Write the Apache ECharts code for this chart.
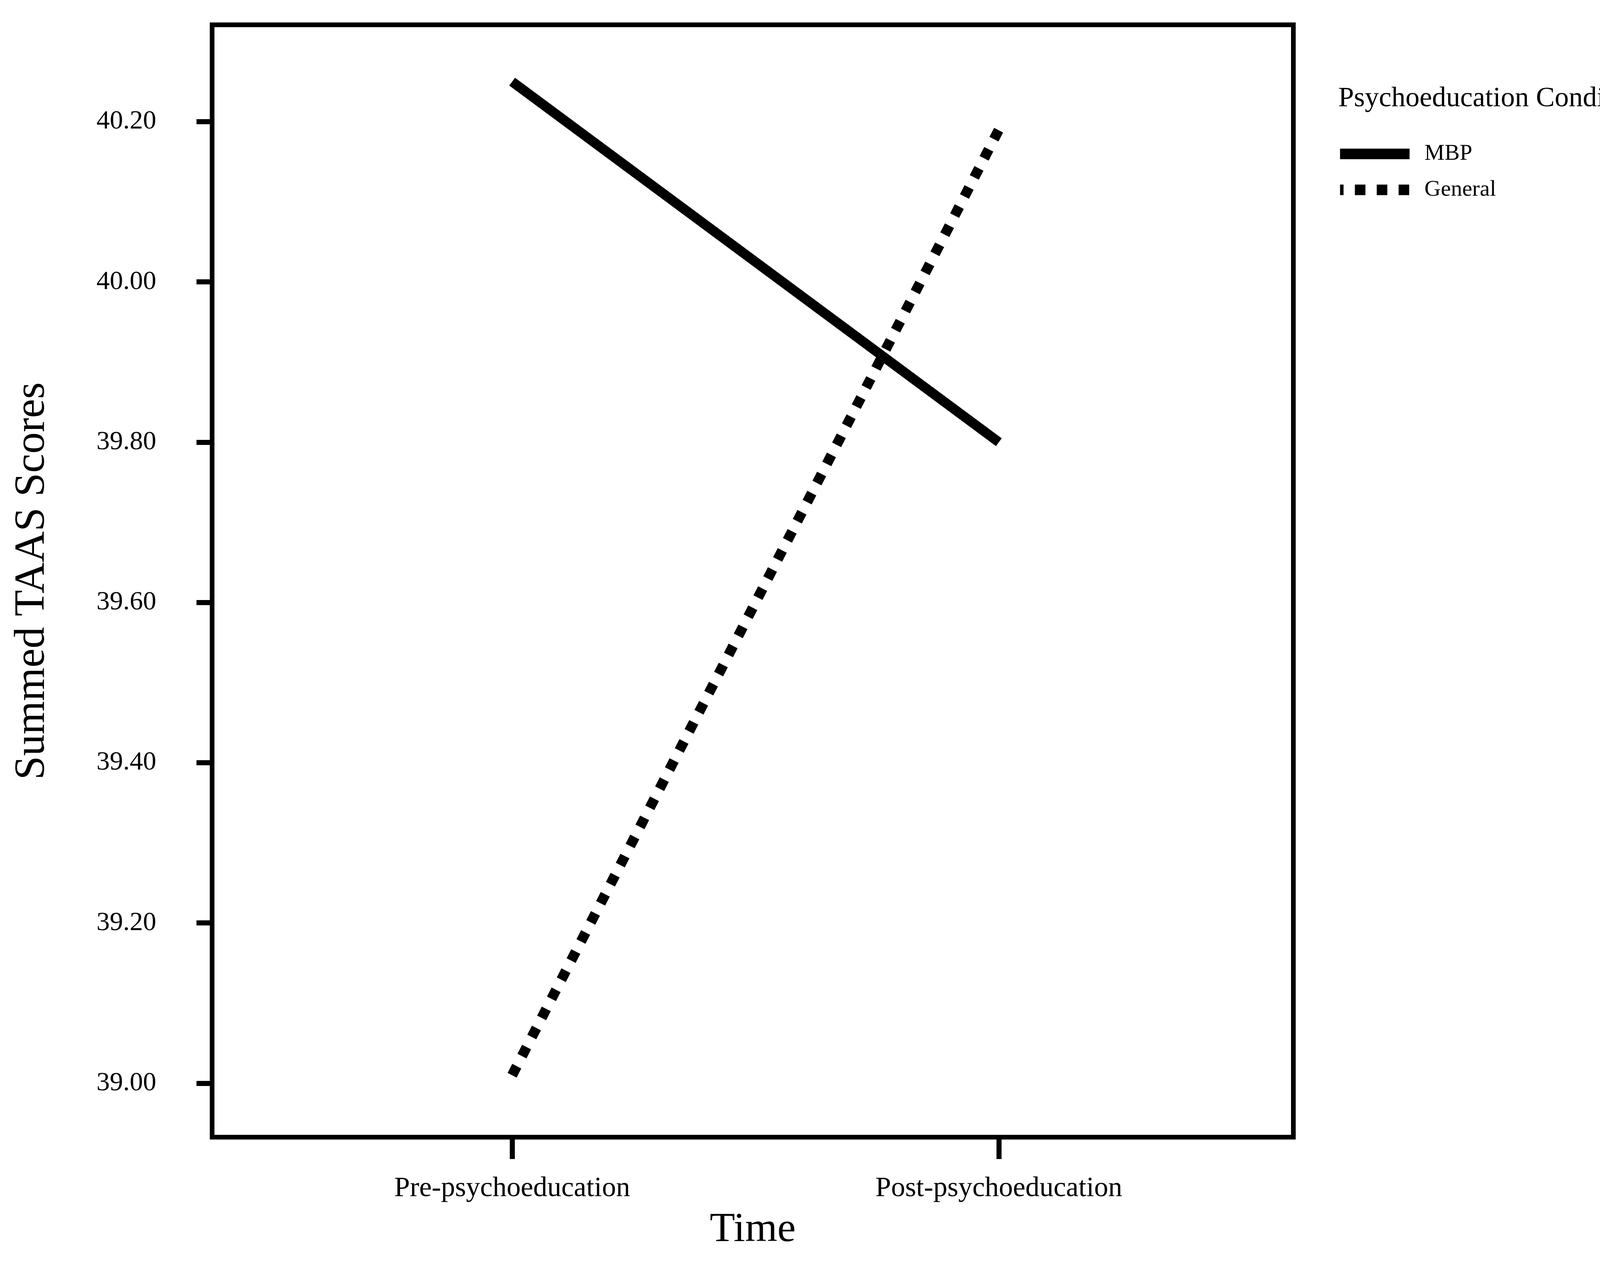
<!DOCTYPE html>
<html>
<head>
<meta charset="utf-8">
<script src="https://cdn.jsdelivr.net/npm/echarts@6/dist/echarts.min.js"></script>
<style>
html, body { margin: 0; padding: 0; background: #fff; }
#chart { width: 4253px; height: 3228px; }
</style>
</head>
<body>
<div id="chart"></div>
<script>
// ---- data ----
const timePoints = ['Pre-psychoeducation', 'Post-psychoeducation'];
const timeIndex = [1, 2];
const mbpScores = [40.25, 39.80];
const generalScores = [39.01, 40.19];
const yTickValues = [39.0, 39.2, 39.4, 39.6, 39.8, 40.0, 40.2];
const seriesNames = ['MBP', 'General'];
const legendTitle = 'Psychoeducation Condition';
const xAxisTitle = 'Time';
const yAxisTitle = 'Summed TAAS Scores';

const FONT = '"Liberation Serif", "Times New Roman", serif';

const chart = echarts.init(document.getElementById('chart'), null, { renderer: 'canvas' });

const toPairs = (vals) => timeIndex.map((x, i) => [x, vals[i]]);

const option = {
  backgroundColor: '#ffffff',
  animation: false,
  title: {
    text: legendTitle,
    left: 3426,
    top: 217,
    padding: 0,
    textStyle: { fontFamily: FONT, fontSize: 72, fontWeight: 'normal', color: '#000' }
  },
  legend: {
    orient: 'vertical',
    left: 3417,
    top: 347,
    padding: 0,
    itemWidth: 178,
    itemHeight: 30,
    itemGap: -2,
    textStyle: { fontFamily: FONT, fontSize: 58, color: '#000', lineHeight: 62, padding: [0, 0, 32, 33] },
    itemStyle: { color: 'rgba(0,0,0,0)', borderWidth: 0, opacity: 0 },
    data: [
      { name: seriesNames[0], lineStyle: { width: 27, color: '#000', type: 'solid' } },
      { name: seriesNames[1], lineStyle: { width: 27, color: '#000', type: [27, 29], dashOffset: 18 } }
    ]
  },
  grid: {
    left: 543,
    top: 63.5,
    width: 2768,
    height: 2847.5,
    show: true,
    borderColor: '#000',
    borderWidth: 12,
    backgroundColor: 'transparent'
  },
  xAxis: {
    type: 'value',
    min: 0.3836,
    max: 2.6051,
    splitLine: { show: false },
    axisLine: { show: false },
    axisTick: { show: true, customValues: timeIndex, length: 56, lineStyle: { color: '#000', width: 13 } },
    axisLabel: {
      customValues: timeIndex,
      formatter: (v) => timePoints[Math.round(v) - 1] || '',
      margin: 96,
      fontFamily: FONT, fontSize: 72, color: '#000'
    },
    name: xAxisTitle,
    nameLocation: 'middle',
    nameGap: 185,
    nameTextStyle: { fontFamily: FONT, fontSize: 106, color: '#000' }
  },
  yAxis: {
    type: 'value',
    min: 38.9327,
    max: 40.3209,
    splitLine: { show: false },
    axisLine: { show: false },
    axisTick: { show: true, customValues: yTickValues, length: 40, lineStyle: { color: '#000', width: 13 } },
    axisLabel: {
      customValues: yTickValues,
      formatter: (v) => Number(v).toFixed(2),
      margin: 143,
      fontFamily: FONT, fontSize: 68, color: '#000'
    },
    name: yAxisTitle,
    nameLocation: 'middle',
    nameGap: 405,
    nameTextStyle: { fontFamily: FONT, fontSize: 110, color: '#000' }
  },
  series: [
    {
      name: seriesNames[1],
      type: 'line',
      data: toPairs(generalScores),
      symbol: 'none',
      z: 2,
      lineStyle: { color: '#000', width: 26, type: [26, 29], cap: 'butt' }
    },
    {
      name: seriesNames[0],
      type: 'line',
      data: toPairs(mbpScores),
      symbol: 'none',
      z: 3,
      lineStyle: { color: '#000', width: 25, type: 'solid', cap: 'butt' }
    }
  ]
};

chart.setOption(option);
</script>
</body>
</html>
